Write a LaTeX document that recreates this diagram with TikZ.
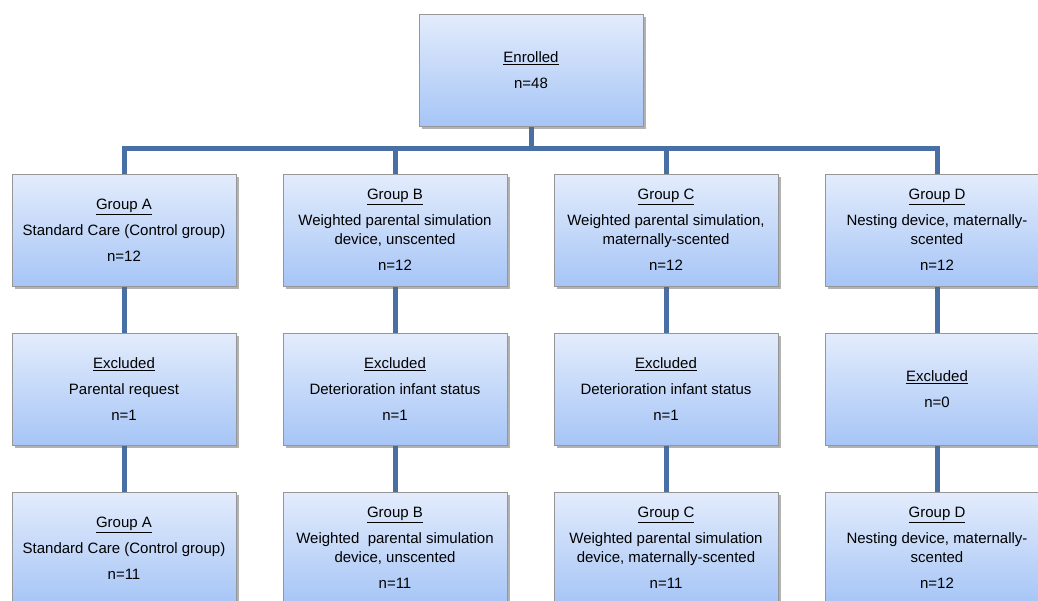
\documentclass[tikz,border=0pt]{standalone}
\usepackage{fontspec}
\setmainfont{Liberation Sans}
\usepackage{tikz}
\usetikzlibrary{shadows,backgrounds,calc}
\usetikzlibrary{positioning}
\definecolor{boxtop}{RGB}{227,236,252}
\definecolor{boxbot}{RGB}{166,197,246}
\definecolor{boxline}{RGB}{150,150,150}
\definecolor{linkblue}{RGB}{72,112,165}

\begin{document}
\begin{tikzpicture}[x=1pt,y=-1pt,
	box/.style={draw=boxline,top color=boxtop,bottom color=boxbot,
		drop shadow={shadow xshift=2.5pt,shadow yshift=-2.5pt,opacity=0.5,fill=black!60},
		minimum width=224pt,minimum height=112pt,inner sep=0pt,align=center,
		font=\fontsize{15}{19}\selectfont},
	link/.style={draw=linkblue,line width=5pt}]
			\clip (0,0) rectangle (1038,600);
			% top
			\node[box] (enr) at (531,70) {\underline{Enrolled}\\[7pt] n=48};
			% groups
			\node[box] (gA) at (124,230) {\underline{Group A}\\[7pt] Standard Care (Control group)\\[7pt] n=12};
			\node[box] (gB) at (395,230) {\underline{Group B}\\[7pt] Weighted parental simulation\\ device, unscented\\[7pt] n=12};
			\node[box] (gC) at (666,230) {\underline{Group C}\\[7pt] Weighted parental simulation,\\ maternally-scented\\[7pt] n=12};
			\node[box] (gD) at (937,230) {\underline{Group D}\\[7pt] Nesting device, maternally-\\ scented\\[7pt] n=12};
			% excluded
			\node[box] (xA) at (124,389) {\underline{Excluded}\\[7pt] Parental request\\[7pt] n=1};
			\node[box] (xB) at (395,389) {\underline{Excluded}\\[7pt] Deterioration infant status\\[7pt] n=1};
			\node[box] (xC) at (666,389) {\underline{Excluded}\\[7pt] Deterioration infant status\\[7pt] n=1};
			\node[box] (xD) at (937,389) {\underline{Excluded}\\[7pt] n=0};
			% final
			\node[box] (fA) at (124,548) {\underline{Group A}\\[7pt] Standard Care (Control group)\\[7pt] n=11};
			\node[box] (fB) at (395,548) {\underline{Group B}\\[7pt] Weighted\ \ parental simulation\\ device, unscented\\[7pt] n=11};
			\node[box] (fC) at (666,548) {\underline{Group C}\\[7pt] Weighted parental simulation\\ device, maternally-scented\\[7pt] n=11};
			\node[box] (fD) at (937,548) {\underline{Group D}\\[7pt] Nesting device, maternally-\\ scented\\[7pt] n=12};
			\begin{scope}[on background layer]
			\coordinate (bar) at ($(enr.south)+(0,22)$);
			\draw[link] (enr.south) -- (bar);
			\draw[link] (gA.north) |- (bar) -| (gD.north);
			\foreach \g in {B,C}
			{
			\draw[link] (g\g.north) -- (g\g.north |- bar);
			}
			\foreach \g in {A,B,C,D}
			{
			\draw[link] (g\g.south) -- (x\g.north);
			\draw[link] (x\g.south) -- (f\g.north);
			}
			\end{scope}
		\end{tikzpicture}
\end{document}
